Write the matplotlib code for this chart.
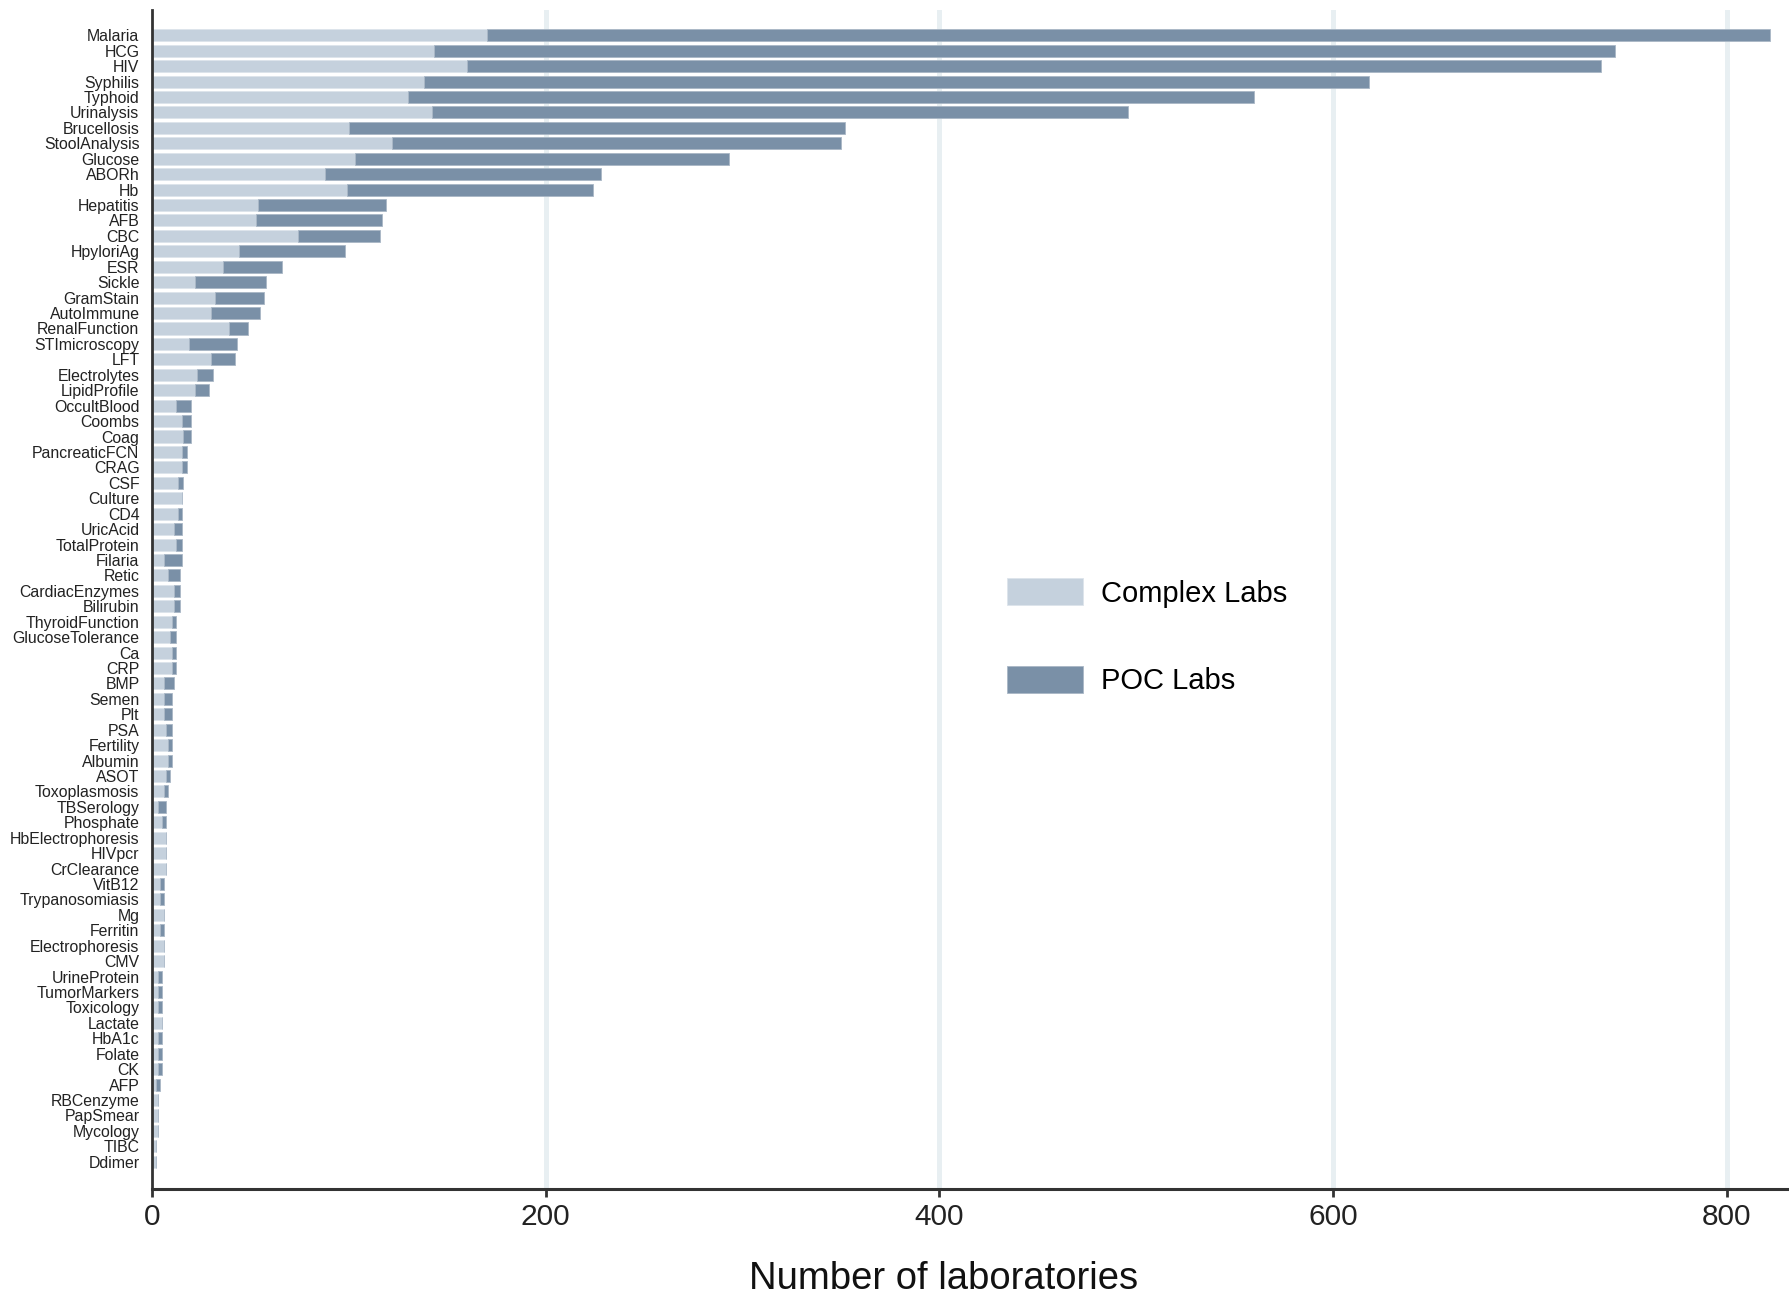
import matplotlib
matplotlib.use("Agg")
import matplotlib.pyplot as plt
import numpy as np

plt.rcParams["font.family"] = ["Liberation Sans", "DejaVu Sans"]

# tests, top to bottom
tests = [
    "Malaria", "HCG", "HIV", "Syphilis", "Typhoid", "Urinalysis", "Brucellosis",
    "StoolAnalysis", "Glucose", "ABORh", "Hb", "Hepatitis", "AFB", "CBC",
    "HpyloriAg", "ESR", "Sickle", "GramStain", "AutoImmune", "RenalFunction",
    "STImicroscopy", "LFT", "Electrolytes", "LipidProfile", "OccultBlood",
    "Coombs", "Coag", "PancreaticFCN", "CRAG", "CSF", "Culture", "CD4",
    "UricAcid", "TotalProtein", "Filaria", "Retic", "CardiacEnzymes",
    "Bilirubin", "ThyroidFunction", "GlucoseTolerance", "Ca", "CRP", "BMP",
    "Semen", "Plt", "PSA", "Fertility", "Albumin", "ASOT", "Toxoplasmosis",
    "TBSerology", "Phosphate", "HbElectrophoresis", "HIVpcr", "CrClearance",
    "VitB12", "Trypanosomiasis", "Mg", "Ferritin", "Electrophoresis", "CMV",
    "UrineProtein", "TumorMarkers", "Toxicology", "Lactate", "HbA1c", "Folate",
    "CK", "AFP", "RBCenzyme", "PapSmear", "Mycology", "TIBC", "Ddimer",
]

complex_labs = [
    170, 143, 160, 138, 130, 142, 100, 122, 103, 88, 99, 54, 53, 74,
    44, 36, 22, 32, 30, 39, 19, 30, 23, 22, 12,
    15, 16, 15, 15, 13, 15, 13, 11, 12, 6, 8, 11,
    11, 10, 9, 10, 10, 6, 6, 6, 7, 8, 8, 7, 6,
    3, 5, 7, 7, 7, 4, 4, 6, 4, 6, 6,
    3, 3, 3, 5, 3, 3, 3, 2, 3, 3, 3, 2, 2,
]

poc_labs = [
    652, 600, 576, 480, 430, 354, 252, 228, 190, 140, 125, 65, 64, 42,
    54, 30, 36, 25, 25, 10, 24, 12, 8, 7, 8,
    5, 4, 3, 3, 3, 0, 2, 4, 3, 9, 6, 3,
    3, 2, 3, 2, 2, 5, 4, 4, 3, 2, 2, 2, 2,
    4, 2, 0, 0, 0, 2, 2, 0, 2, 0, 0,
    2, 2, 2, 0, 2, 2, 2, 2, 0, 0, 0, 0, 0,
]

xticks = [0, 200, 400, 600, 800]

light = "#c5d1dd"
dark = "#7a90a7"

fig = plt.figure(figsize=(17.9, 12.96), dpi=100)
ax = fig.add_axes([0.0849, 0.0826, 0.9151, 0.9097])

y = np.arange(len(tests))
ax.barh(y, complex_labs, height=0.78, color=light, edgecolor="#dde4eb",
        linewidth=0.6, label="Complex Labs", zorder=2)
ax.barh(y, poc_labs, left=complex_labs, height=0.78, color=dark,
        edgecolor="#a9b7c6", linewidth=0.6, label="POC Labs", zorder=2)

for t in xticks[1:]:
    ax.axvline(t, color="#e8eff2", linewidth=3.6, zorder=0)

ax.set_xlim(0, 832)
ax.set_ylim(74.76, -1.64)
ax.set_yticks(y)
ax.set_yticklabels(tests, fontsize=11.4, color="#222222")
ax.tick_params(axis="y", length=0, pad=9)
ax.set_xticks(xticks)
ax.tick_params(axis="x", labelsize=21.5, length=6, width=2, pad=4,
               color="#333333", labelcolor="#222222")

for side in ["top", "right"]:
    ax.spines[side].set_visible(False)
ax.spines["left"].set_linewidth(2)
ax.spines["left"].set_color("#333333")
ax.spines["bottom"].set_linewidth(2.2)
ax.spines["bottom"].set_color("#333333")

ax.set_xlabel("Number of laboratories", fontsize=27.5, color="#111111", labelpad=0)
ax.xaxis.set_label_coords(0.483, -0.061)

ax.legend(loc="upper left", bbox_to_anchor=(0.5218, 0.518), frameon=False,
          fontsize=21, handlelength=2.6, handleheight=1.03, handletextpad=0.62,
          labelspacing=2.0, borderpad=0, borderaxespad=0)

fig.savefig("out.png", dpi=100)
